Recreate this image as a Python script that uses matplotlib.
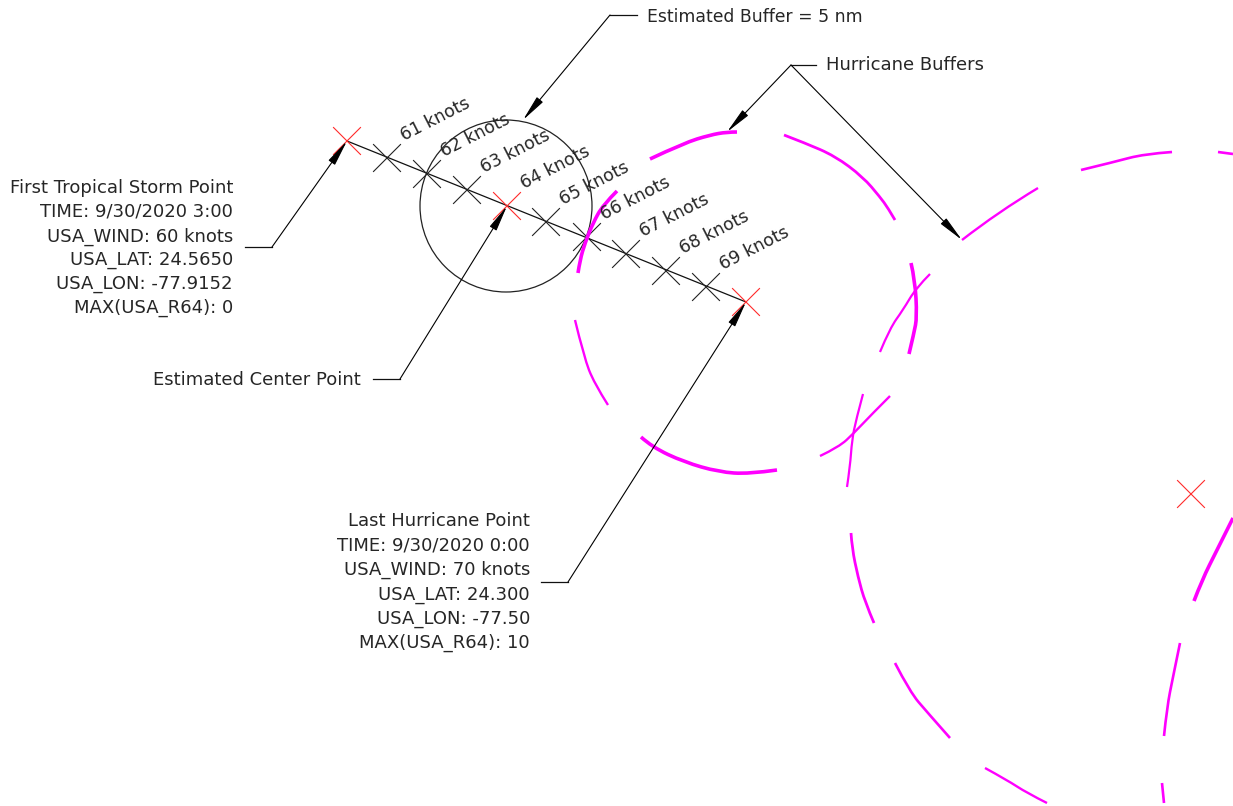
import matplotlib.pyplot as plt
from matplotlib.patches import Circle, FancyArrowPatch, PathPatch
from matplotlib.path import Path

# everything is in image pixels, y going down
largura, altura = 1233, 806

# buffer arcs of the hurricanes (dashed looking, each piece is one polyline)
arcos = [
    [(650, 159), (684, 143), (710, 135), (727, 132), (737, 132)],
    [(784, 135), (805, 143), (835, 156), (863, 177), (880, 197), (888, 208), (895, 220)],
    [(617, 191), (603, 205), (593, 223), (585, 243), (580, 260), (578, 273)],
    [(575, 320), (584, 357), (594, 383), (608, 405)],
    [(641, 437), (652, 447), (684, 462), (719, 472), (749, 474), (777, 470)],
    [(820, 456), (839, 447), (854, 433), (871, 415), (890, 396)],
    [(863, 394), (856, 420), (852, 440), (850, 467), (847, 487)],
    [(880, 352), (890, 328), (903, 310), (916, 288), (930, 274)],
    [(911, 263), (915, 280), (917, 317), (914, 333), (909, 354)],
    [(962, 240), (998, 212), (1038, 188)],
    [(1081, 170), (1114, 162), (1144, 154), (1172, 152)],
    [(1218, 152), (1233, 154)],
    [(851, 533), (852, 548), (858, 577), (865, 602), (874, 623)],
    [(895, 663), (910, 692), (927, 712), (950, 738)],
    [(985, 768), (1007, 780), (1027, 793), (1047, 803)],
    [(1233, 518), (1217, 550), (1202, 580), (1194, 601)],
    [(1180, 643), (1173, 677), (1167, 707), (1164, 736)],
    [(1162, 783), (1164, 803)],
]
larguras_arcos = [2.6, 2.0, 2.6, 1.7, 2.6, 1.7, 1.6, 1.6, 2.6, 1.7, 1.9, 1.9, 2.0, 1.9, 1.7, 2.6, 1.9, 1.9]

# track between first tropical storm point and last hurricane point
ventos = [61, 62, 63, 64, 65, 66, 67, 68, 69]
x_pontos = [387, 427, 467, 507, 546, 587, 626, 666, 706]
y_pontos = [158, 174, 190, 206, 222, 237, 254, 271, 287]
trilha_x = [347, 746]
trilha_y = [141, 302]
vermelhos_x = [347, 507, 746, 1191]
vermelhos_y = [141, 206, 302, 494]
centro_circulo = (506, 206)
raio_circulo = 86

textos_tropical = ['First Tropical Storm Point', 'TIME: 9/30/2020 3:00', 'USA_WIND: 60 knots',
                   'USA_LAT: 24.5650', 'USA_LON: -77.9152', 'MAX(USA_R64): 0']
y_tropical = [188, 212, 237, 260, 284, 308]
textos_furacao = ['Last Hurricane Point', 'TIME: 9/30/2020 0:00', 'USA_WIND: 70 knots',
                  'USA_LAT: 24.300', 'USA_LON: -77.50', 'MAX(USA_R64): 10']
y_furacao = [521, 546, 570, 595, 619, 643]

# leader lines: last segment ends on the arrow tip
chamadas = [
    [(245, 247), (272, 247), (347, 141)],
    [(637, 15), (610, 15), (523, 120)],
    [(816, 65), (791, 65), (727, 132)],
    [(791, 65), (962, 240)],
    [(373, 379), (400, 379), (507, 206)],
    [(541, 582), (568, 582), (746, 302)],
]


def desenha_x(ax, x, y, tam, cor):
    ax.plot([x - tam, x + tam], [y - tam, y + tam], color=cor, lw=0.8, zorder=3)
    ax.plot([x - tam, x + tam], [y + tam, y - tam], color=cor, lw=0.8, zorder=3)


# smooth curve through the read points, so the arcs do not look faceted
def caminho_arco(arco):
    if len(arco) < 3:
        return Path(arco)
    verts = [arco[0]]
    codes = [Path.MOVETO]
    for i in range(1, len(arco) - 1):
        if i == len(arco) - 2:
            fim = arco[i + 1]
        else:
            fim = ((arco[i][0] + arco[i + 1][0]) / 2, (arco[i][1] + arco[i + 1][1]) / 2)
        verts += [arco[i], fim]
        codes += [Path.CURVE3, Path.CURVE3]
    return Path(verts, codes)


fig = plt.figure(figsize=(largura / 100, altura / 100), dpi=100)
ax = fig.add_axes([0, 0, 1, 1])
ax.set_xlim(0, largura)
ax.set_ylim(altura, 0)
ax.axis('off')

plt.rcParams['font.family'] = ['DejaVu Sans']
fonte = 13
fonte_vento = 12.5
cor_texto = '#262626'

for arco, lw in zip(arcos, larguras_arcos):
    ax.add_patch(PathPatch(caminho_arco(arco), fill=False, ec='#ff00ff', lw=lw, zorder=4, capstyle='butt'))

ax.add_patch(Circle(centro_circulo, raio_circulo, fill=False, ec='#222222', lw=0.9, zorder=2))
ax.plot(trilha_x, trilha_y, color='#111111', lw=0.9, zorder=3)

for v, x, y in zip(ventos, x_pontos, y_pontos):
    if v != 64:
        desenha_x(ax, x, y, 13.5, '#222222')
    ax.text(x + 19, y - 13, f'{v} knots', rotation=27, rotation_mode='anchor', ha='left', va='bottom',
            fontsize=fonte_vento, color=cor_texto, zorder=5)

for x, y in zip(vermelhos_x, vermelhos_y):
    desenha_x(ax, x, y, 13.5, '#ff2a2a')

for chamada in chamadas:
    if len(chamada) == 3:
        ax.plot([chamada[0][0], chamada[1][0]], [chamada[0][1], chamada[1][1]], color='#111111', lw=0.9)
    ax.add_patch(FancyArrowPatch(chamada[-2], chamada[-1], arrowstyle='-|>,head_length=1.6,head_width=0.24',
                                 mutation_scale=10, shrinkA=0, shrinkB=0, color='black', lw=0.8, zorder=6))

for t, y in zip(textos_tropical, y_tropical):
    ax.text(233, y, t, ha='right', va='center', fontsize=fonte, color=cor_texto)
for t, y in zip(textos_furacao, y_furacao):
    ax.text(530, y, t, ha='right', va='center', fontsize=fonte, color=cor_texto)

ax.text(647, 17, 'Estimated Buffer = 5 nm', ha='left', va='center', fontsize=12.4, color=cor_texto)
ax.text(826, 65, 'Hurricane Buffers', ha='left', va='center', fontsize=fonte, color=cor_texto)
ax.text(361, 380, 'Estimated Center Point', ha='right', va='center', fontsize=fonte, color=cor_texto)

fig.savefig('out.png', dpi=100)
